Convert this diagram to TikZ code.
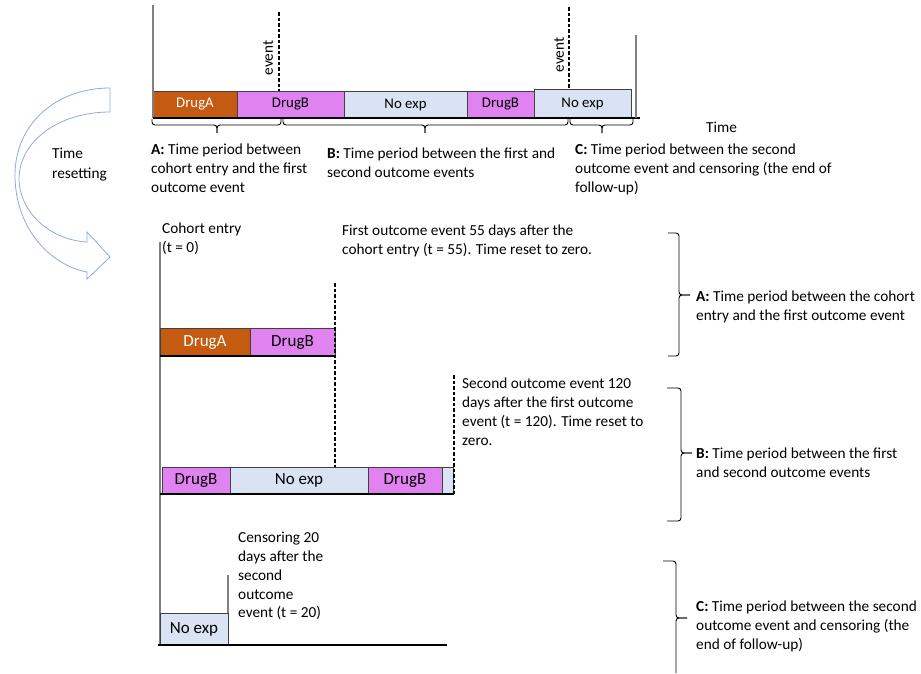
\documentclass[tikz,border=0pt]{standalone}
\usepackage{fontspec}
\setmainfont{Carlito}
\definecolor{drugA}{HTML}{C55A11}
\definecolor{drugB}{HTML}{E083F1}
\definecolor{noexp}{HTML}{DAE3F3}
\definecolor{arrowc}{HTML}{8FAADC}
\definecolor{axgray}{HTML}{808080}
\begin{document}
\begin{tikzpicture}[x=1pt,y=-1pt,font=\fontsize{15.3}{18.8}\selectfont,
  seg/.style={draw=black!75, line width=0.8pt, minimum height=27pt, inner sep=0pt, outer sep=0pt, anchor=north west, font=\fontsize{14.8}{18}\selectfont},
  bigseg/.style={seg, font=\fontsize{17}{20}\selectfont},
  evline/.style={dash pattern=on 3.5pt off 2pt, line width=1.2pt},
  gline/.style={draw=axgray, line width=1.3pt},
  axisline/.style={line width=1.5pt},
  lbl/.style={align=left, anchor=north west, inner sep=0pt},
  bracel/.style={line width=0.9pt, rounded corners=3pt}]
\useasboundingbox (0,0) rectangle (921,673);

% ---------- top timeline ----------
\node[seg, fill=drugA, text=white, minimum width=84] (tA) at (153,91) {DrugA};
\node[seg, fill=drugB, minimum width=107] (tB1) at (tA.north east) {DrugB};
\node[seg, fill=noexp, minimum width=123] (tN1) at (tB1.north east) {No exp};
\node[seg, fill=drugB, minimum width=67] (tB2) at (tN1.north east) {DrugB};
\node[seg, fill=noexp, minimum width=97, minimum height=29] (tN2) at ([yshift=2pt]tB2.north east) {No exp};

\coordinate (topL) at (153,5);
\coordinate (axL) at (153,118);
\coordinate (axR) at (640,118);
\draw[gline] (topL) -- (axL);
\draw[axisline] (axL) -- (axR);
\coordinate (rT) at (636,35);
\coordinate (rB) at (636,118);
\draw[gline] (rT) -- (rB);

\coordinate (e1t) at (279,12);
\draw[evline] (e1t) -- (e1t |- tB1.north);
\node[rotate=90] (ev1) at (268,58) {event};
\coordinate (e2t) at (569,7);
\draw[evline] (e2t) -- (e2t |- tN2.north);
\node[rotate=90] (ev2) at (559,55) {event};

\node[anchor=west, inner sep=0pt] (time) at (706,127) {Time};

\draw[bracel] (152,119) |- (217,125) -- (217,133);
\draw[bracel] (217,133) -- (217,125) -| (281,119);
\draw[bracel] (283,119) |- (425,125) -- (425,133);
\draw[bracel] (425,133) -- (425,125) -| (568,119);
\draw[bracel] (570,119) |- (602,125) -- (602,133);
\draw[bracel] (602,133) -- (602,125) -| (633,119);

\node[lbl] (labA) at (151,144) {\textbf{A:} Time period between\\cohort entry and the first\\outcome event};
\node[lbl] (labB) at (327,148) {\textbf{B:} Time period between the first and\\second outcome events};
\node[lbl] (labC) at (575,144) {\textbf{C:} Time period between the second\\outcome event and censoring (the end of\\follow-up)};

% ---------- time resetting arrow ----------
\node[lbl, font=\fontsize{15.3}{20}\selectfont] (tr) at (52,148) {Time\\resetting};
\draw[arrowc, line width=0.8pt] (110,88) .. controls (55,88) and (15,125) .. (15,175)
  .. controls (15,228) and (50,265) .. (87,272) -- (87,279) -- (110,257) -- (87,232) -- (87,242)
  .. controls (50,240) and (19,212) .. (19,178) .. controls (20,140) and (60,112) .. (110,112) -- cycle;

% ---------- section A ----------
\node[lbl] (coh) at (162,223) {Cohort entry\\(t = 0)};
\coordinate (mvT) at (160,242);
\coordinate (mvB) at (160,645);
\draw[gline] (mvT) -- (mvB);
\node[bigseg, fill=drugA, text=white, minimum width=90, minimum height=28] (mA) at (160,328) {DrugA};
\node[bigseg, fill=drugB, minimum width=85, minimum height=28] (mB) at (mA.north east) {DrugB};
\draw[line width=1.2pt] (mA.south west) -- (mB.south east);
\coordinate (d1t) at (335,283);
\coordinate (d1b) at (335,467);
\draw[evline] (d1t) -- (d1b);
\node[lbl] (first) at (342,225) {First outcome event 55 days after the\\cohort entry (t = 55). Time reset to zero.};

% ---------- section B ----------
\node[bigseg, fill=drugB, minimum width=68, minimum height=26] (sB1) at (162,467) {DrugB};
\node[bigseg, fill=noexp, minimum width=138, minimum height=26] (sN1) at (sB1.north east) {No exp};
\node[bigseg, fill=drugB, minimum width=74, minimum height=26] (sB2) at (sN1.north east) {DrugB};
\node[bigseg, fill=noexp, minimum width=11, minimum height=26] (sN2) at (sB2.north east) {};
\coordinate (sL) at (160,494);
\coordinate (sR) at (454,494);
\draw[line width=1.2pt] (sL) -- (sR);
\coordinate (d2t) at (454,375);
\coordinate (d2b) at (454,495);
\draw[evline] (d2t) -- (d2b);
\node[lbl] (second) at (462,378) {Second outcome event 120\\days after the first outcome\\event (t = 120). Time reset to\\zero.};

% ---------- section C ----------
\node[bigseg, fill=noexp, minimum width=68, minimum height=32] (bN) at (160,613) {No exp};
\coordinate (cT) at (228,575);
\draw[gline] (cT) -- (bN.north east);
\node[lbl] (cens) at (238,532) {Censoring 20\\days after the\\second\\outcome\\event (t = 20)};
\coordinate (bL) at (158,645);
\coordinate (bR) at (447,645);
\draw[axisline] (bL) -- (bR);

% ---------- right braces ----------
\draw[bracel] (668,233) -| (679,295) -- (690,295);
\draw[bracel] (690,295) -- (679,295) |- (668,356);
\node[lbl] (rA) at (696,291) {\textbf{A:} Time period between the cohort\\entry and the first outcome event};
\draw[bracel] (667,388) -| (681,453) -- (692,453);
\draw[bracel] (692,453) -- (681,453) |- (667,521);
\node[lbl] (rB) at (696,448) {\textbf{B:} Time period between the first\\and second outcome events};
\draw[bracel] (663,561) -| (676,618) -- (687,618);
\draw[bracel] (687,618) -- (676,618) -- (676,673);
\node[lbl] (rC) at (696,601) {\textbf{C:} Time period between the second\\outcome event and censoring (the\\end of follow-up)};
\end{tikzpicture}
\end{document}
